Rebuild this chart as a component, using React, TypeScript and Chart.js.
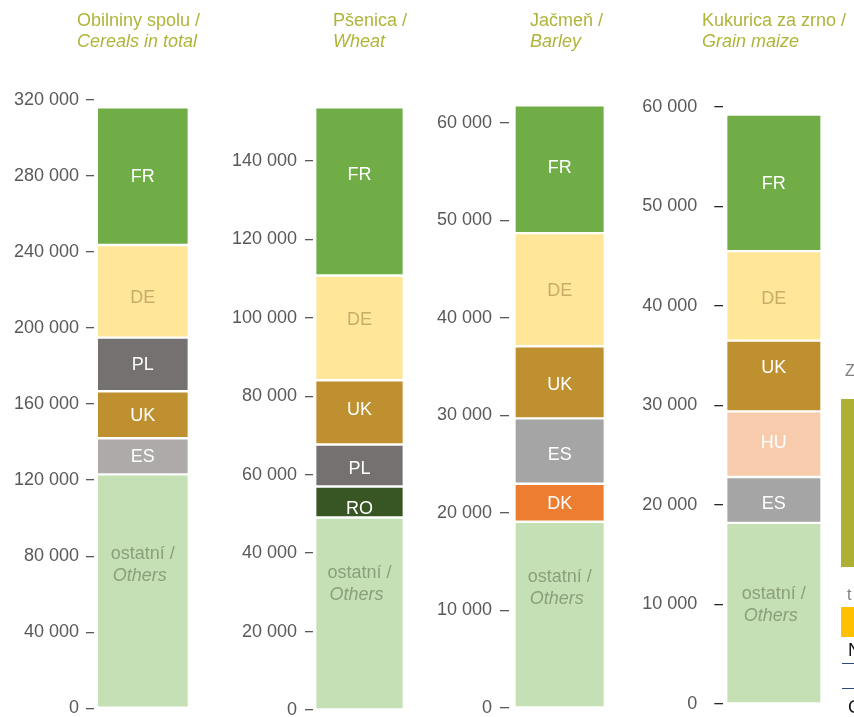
import React, { useEffect, useRef } from "react";
import { Chart, registerables } from "chart.js";

Chart.register(...registerables);

const FONT = '"Liberation Sans", Arial, Helvetica, sans-serif';

// ---- data (bottom segment first) ----
const cerealsCountries = ["OTHERS", "ES", "UK", "PL", "DE", "FR"];
const cerealsValues = [123000, 19000, 24700, 28200, 48700, 72400];
const cerealsTicks = [0, 40000, 80000, 120000, 160000, 200000, 240000, 280000, 320000];

const wheatCountries = ["OTHERS", "RO", "PL", "UK", "DE", "FR"];
const wheatValues = [49100, 7900, 10700, 16400, 26700, 42900];
const wheatTicks = [0, 20000, 40000, 60000, 80000, 100000, 120000, 140000];

const barleyCountries = ["OTHERS", "DK", "ES", "UK", "DE", "FR"];
const barleyValues = [19100, 3900, 6700, 7400, 11600, 13100];
const barleyTicks = [0, 10000, 20000, 30000, 40000, 50000, 60000];

const maizeCountries = ["OTHERS", "ES", "HU", "UK", "DE", "FR"];
const maizeValues = [18200, 4600, 6600, 7100, 9000, 13700];
const maizeTicks = [0, 10000, 20000, 30000, 40000, 50000, 60000];

const othersLabelCz = "ostatní /";
const othersLabelEn = "Others";

// ---- styles ----
const baseColors: Record<string, string> = {
  FR: "#70AD47",
  DE: "#FFE699",
  PL: "#767171",
  UK: "#BF9030",
  ES: "#A5A5A5",
  RO: "#375623",
  DK: "#ED7D31",
  HU: "#F8CBAD",
  OTHERS: "#C5E0B4",
};
const textColors: Record<string, string> = {
  DE: "#C8AD6A",
  OTHERS: "#8B9F7C",
};

const CANVAS_H = 760;

const panels = [
  {
    titleCz: "Obilniny spolu /",
    titleEn: "Cereals in total",
    codes: cerealsCountries,
    values: cerealsValues,
    ticks: cerealsTicks,
    max: 320000,
    L: { left: 0, width: 200, axisW: 94, areaRight: 191.6, top: 99.7, bottom: 708.3, barW: 92, tickLen: 8, tickPad: 7, tickColor: "#595959", titleX: 77, othersShift: -37, overrides: { ES: "#AEAAAA" } as Record<string, string>, shifts: { DE: 6 } as Record<string, number> },
  },
  {
    titleCz: "Pšenica /",
    titleEn: "Wheat",
    codes: wheatCountries,
    values: wheatValues,
    ticks: wheatTicks,
    max: 155000,
    L: { left: 200, width: 220, axisW: 113, areaRight: 406, top: 102.2, bottom: 710, barW: 88.6, tickLen: 8, tickPad: 8, tickColor: "#595959", titleX: 333, othersShift: -40, overrides: {} as Record<string, string>, shifts: { FR: -17, DE: -9, UK: -3, PL: 3, RO: 6 } as Record<string, number> },
  },
  {
    titleCz: "Jačmeň /",
    titleEn: "Barley",
    codes: barleyCountries,
    values: barleyValues,
    ticks: barleyTicks,
    max: 63000,
    L: { left: 420, width: 200, axisW: 89, areaRight: 610.3, top: 93.75, bottom: 708, barW: 90.3, tickLen: 9, tickPad: 8, tickColor: "#595959", titleX: 530, othersShift: -38, overrides: {} as Record<string, string>, shifts: { FR: -2, UK: 2, ES: 3 } as Record<string, number> },
  },
  {
    titleCz: "Kukurica za zrno /",
    titleEn: "Grain maize",
    codes: maizeCountries,
    values: maizeValues,
    ticks: maizeTicks,
    max: 60000,
    L: { left: 620, width: 234, axisW: 103.3, areaRight: 824.4, top: 106.7, bottom: 704, barW: 95.3, tickLen: 9, tickPad: 17, tickColor: "#262626", titleX: 702, othersShift: -19, overrides: {} as Record<string, string>, shifts: { UK: -9, HU: -2, ES: 3, DE: 2 } as Record<string, number> },
  },
];

type Panel = (typeof panels)[number];

function fmt(v: number): string {
  return String(Math.round(v)).replace(/\B(?=(\d{3})+(?!\d))/g, " ");
}

function makeLabelPlugin(p: Panel) {
  return {
    id: "segLabels",
    afterDatasetsDraw(chart: any) {
      const ctx = chart.ctx as CanvasRenderingContext2D;
      ctx.save();
      chart.data.datasets.forEach((_ds: any, i: number) => {
        const meta = chart.getDatasetMeta(i);
        const el = meta.data[0];
        if (!el) return;
        const code = p.codes[i];
        const cx = el.x;
        const cy = (el.y + el.base) / 2;
        ctx.fillStyle = textColors[code] || "#FFFFFF";
        ctx.textBaseline = "middle";
        if (code === "OTHERS") {
          ctx.font = `18px ${FONT}`;
          const w = ctx.measureText(othersLabelCz).width;
          const x0 = cx - w / 2;
          ctx.textAlign = "left";
          ctx.fillText(othersLabelCz, x0, cy + p.L.othersShift);
          ctx.font = `italic 18px ${FONT}`;
          ctx.fillText(othersLabelEn, x0 + 2, cy + p.L.othersShift + 22);
        } else {
          ctx.font = `18px ${FONT}`;
          ctx.textAlign = "center";
          ctx.fillText(code, cx, cy + 1 + (p.L.shifts[code] || 0));
        }
      });
      ctx.restore();
    },
  };
}

function PanelChart({ p }: { p: Panel }) {
  const ref = useRef<HTMLCanvasElement | null>(null);
  useEffect(() => {
    if (!ref.current) return;
    const L = p.L;
    const chart = new Chart(ref.current, {
      type: "bar",
      data: {
        labels: [""],
        datasets: p.codes.map((c, i) => ({
          label: c,
          data: [p.values[i]],
          backgroundColor: L.overrides[c] || baseColors[c],
          borderColor: "#FFFFFF",
          borderWidth: 1.5,
          borderSkipped: false,
          barThickness: L.barW,
          stack: "s",
        })),
      },
      options: {
        animation: false,
        responsive: true,
        maintainAspectRatio: false,
        layout: {
          padding: {
            top: L.top,
            bottom: CANVAS_H - L.bottom,
            left: 0,
            right: L.left + L.width - L.areaRight,
          },
        },
        plugins: {
          legend: { display: false },
          tooltip: { enabled: false },
        },
        scales: {
          x: { display: false, stacked: true },
          y: {
            stacked: true,
            min: 0,
            max: p.max,
            afterBuildTicks: (scale: any) => {
              scale.ticks = p.ticks.map((v) => ({ value: v }));
            },
            afterFit: (scale: any) => {
              scale.width = L.axisW;
            },
            border: { display: false },
            grid: {
              drawOnChartArea: false,
              drawTicks: true,
              tickLength: L.tickLen,
              color: L.tickColor,
              lineWidth: 1.3,
            },
            ticks: {
              padding: L.tickPad,
              color: "#595959",
              font: { family: FONT, size: 18 },
              callback: (v: any) => fmt(Number(v)),
            },
          },
        },
      } as any,
      plugins: [makeLabelPlugin(p)],
    });
    return () => chart.destroy();
  }, [p]);

  return (
    <div
      style={{
        position: "absolute",
        left: p.L.left,
        top: 0,
        width: p.L.width,
        height: CANVAS_H,
      }}
    >
      <canvas ref={ref} />
    </div>
  );
}

export default function App() {
  const titleStyle: React.CSSProperties = {
    position: "absolute",
    top: 9.7,
    fontFamily: FONT,
    fontSize: 18,
    lineHeight: "21.6px",
    color: "#B0B43A",
    whiteSpace: "nowrap",
  };
  return (
    <div
      style={{
        position: "absolute",
        left: 0,
        top: 0,
        width: 854,
        height: 717,
        overflow: "hidden",
        background: "#FFFFFF",
        fontFamily: FONT,
      }}
    >
      {panels.map((p, i) => (
        <PanelChart key={i} p={p} />
      ))}
      {panels.map((p, i) => (
        <div key={"t" + i} style={{ ...titleStyle, left: p.L.titleX }}>
          <div>{p.titleCz}</div>
          <div style={{ fontStyle: "italic" }}>{p.titleEn}</div>
        </div>
      ))}
      {/* cut-off side panel at the right edge */}
      <div style={{ position: "absolute", left: 845, top: 361, fontSize: 16, color: "#7F7F7F", lineHeight: "20px" }}>Z</div>
      <div style={{ position: "absolute", left: 841, top: 399, width: 20, height: 168, background: "#AEB033" }} />
      <div style={{ position: "absolute", left: 847, top: 585, fontSize: 16, color: "#7F7F7F", lineHeight: "20px" }}>t</div>
      <div style={{ position: "absolute", left: 841, top: 607, width: 20, height: 30, background: "#FFC000" }} />
      <div style={{ position: "absolute", left: 848, top: 639, fontSize: 18, color: "#111111", lineHeight: "22px" }}>N</div>
      <div style={{ position: "absolute", left: 842, top: 663, width: 20, height: 1, background: "#2F4A7A" }} />
      <div style={{ position: "absolute", left: 842, top: 688, width: 20, height: 1, background: "#2F4A7A" }} />
      <div style={{ position: "absolute", left: 848, top: 696, fontSize: 18, color: "#111111", lineHeight: "22px" }}>C</div>
    </div>
  );
}
